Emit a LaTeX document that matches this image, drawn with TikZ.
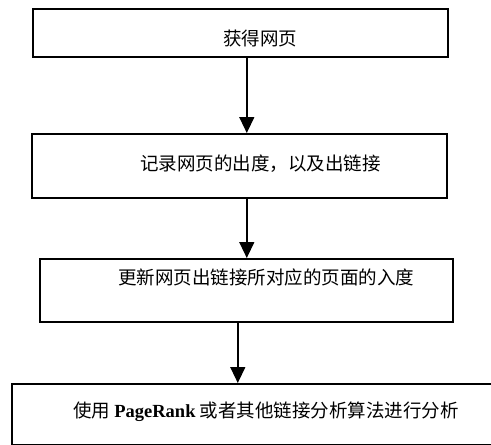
\documentclass[tikz,border=0pt]{standalone}
\usepackage{fontspec}
\setmainfont{Liberation Serif}
\newfontfamily\cjk{Noto Sans CJK SC}
\usepackage{tikz}
\usetikzlibrary{positioning,arrows.meta,calc}

\begin{document}
\begin{tikzpicture}[
  x=1pt, y=-1pt,
  box/.style={draw, line width=1.6pt, anchor=north west, inner sep=0pt},
  txt/.style={anchor=west, inner sep=0pt, font=\fontsize{18.5}{22}\selectfont\cjk},
  arr/.style={-{Triangle[width=15pt,length=16pt]}, line width=1.4pt}
]
  \useasboundingbox (0,0) rectangle (491,445);
  \clip (0,0) rectangle (491,445);
  \node[box, minimum width=415pt, minimum height=48pt] (b1) at (32,8)   {};
  \node[box, minimum width=415pt, minimum height=64pt] (b2) at (31,133) {};
  \node[box, minimum width=413pt, minimum height=63pt] (b3) at (39,258) {};
  \node[box, minimum width=500pt, minimum height=61pt] (b4) at (11,383) {};
  \node[txt] (t1) at ([xshift=191pt,yshift=-6pt]b1.west)  {获得网页};
  \node[txt] (t2) at ([xshift=109pt,yshift=2pt]b2.west)   {记录网页的出度，以及出链接};
  \node[txt] (t3) at ([xshift=79pt,yshift=12.5pt]b3.west) {更新网页出链接所对应的页面的入度};
  \node[txt] (t4) at ([xshift=62pt,yshift=2.5pt]b4.west)
    {使用 {\rmfamily\bfseries PageRank} 或者其他链接分析算法进行分析};
  \draw[arr] ([xshift=6.5pt]b1.south)  -- ([xshift=6.5pt]b1.south |- b2.north);
  \draw[arr] ([xshift=7.5pt]b2.south)  -- ([xshift=7.5pt]b2.south |- b3.north);
  \draw[arr] ([xshift=-8.5pt]b3.south) -- ([xshift=-8.5pt]b3.south |- b4.north);
\end{tikzpicture}
\end{document}
